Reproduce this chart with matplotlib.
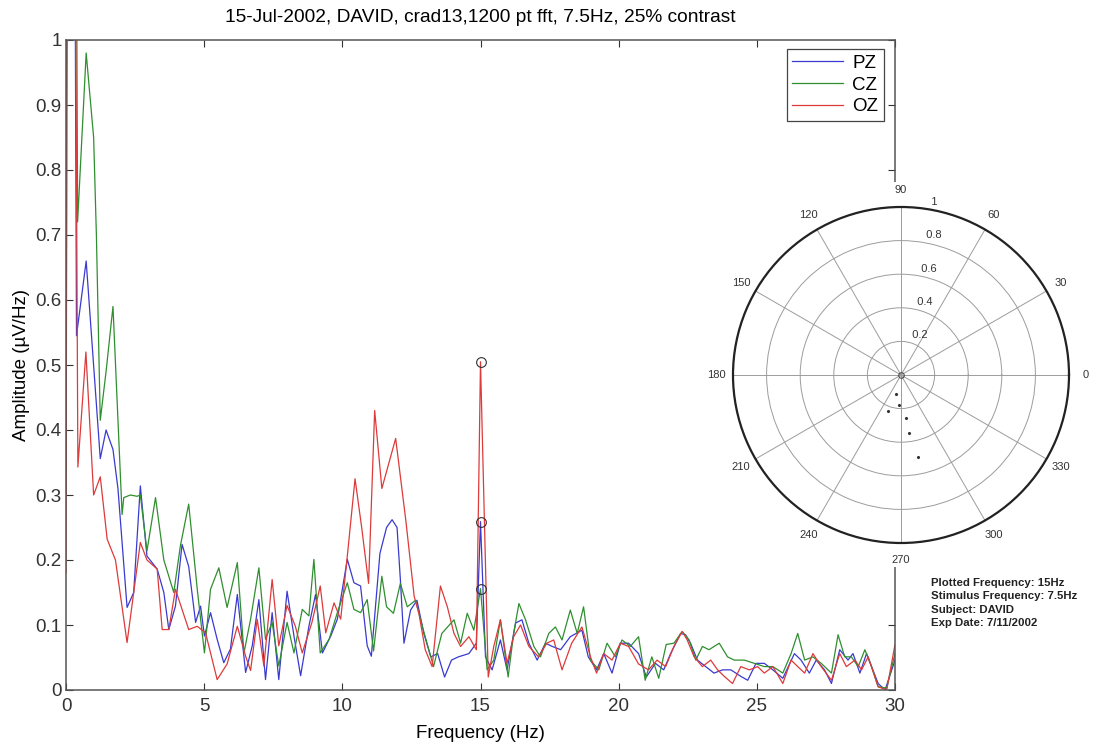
import matplotlib
matplotlib.use("Agg")
import matplotlib.pyplot as plt
import numpy as np

plt.rcParams['font.family'] = ['Liberation Sans', 'DejaVu Sans']

# spectrum vertices (Hz, amplitude)
pz_freq = [0.0, 0.1, 0.25, 0.38, 0.73, 1.24, 1.45, 1.70, 1.88, 2.21, 2.45, 2.69, 2.93, 3.30, 3.54, 3.72,
           3.96, 4.20, 4.44, 4.69, 4.87, 5.01, 5.23, 5.47, 5.71, 5.95, 6.20, 6.50, 6.74, 6.98, 7.22, 7.46,
           7.70, 8.00, 8.25, 8.49, 8.79, 9.03, 9.28, 9.58, 9.82, 10.18, 10.42, 10.66, 10.90, 11.05, 11.36,
           11.60, 11.80, 11.98, 12.10, 12.23, 12.47, 12.70, 12.95, 13.20, 13.45, 13.70, 13.95, 14.20, 14.58,
           14.85, 15.00, 15.18, 15.42, 15.72, 15.96, 16.27, 16.50, 16.75, 17.05, 17.35, 17.60, 17.90, 18.25,
           18.67, 18.90, 19.20, 19.46, 19.76, 20.06, 20.36, 20.72, 21.00, 21.33, 21.63, 21.88, 22.24, 22.42,
           22.60, 22.85, 23.15, 23.45, 23.76, 24.06, 24.42, 24.67, 24.97, 25.27, 25.58, 25.94, 26.36, 26.60,
           26.90, 27.15, 27.45, 27.70, 28.00, 28.30, 28.48, 28.73, 28.97, 29.39, 29.64, 30.0]
pz_amp = [0.72, 2.0, 2.0, 0.545, 0.66, 0.356, 0.40, 0.37, 0.31, 0.127, 0.15, 0.314, 0.206, 0.186, 0.15, 0.093,
          0.129, 0.224, 0.19, 0.104, 0.129, 0.083, 0.119, 0.078, 0.042, 0.063, 0.147, 0.027, 0.068, 0.139, 0.016, 0.119,
          0.016, 0.152, 0.083, 0.022, 0.098, 0.147, 0.057, 0.083, 0.109, 0.201, 0.165, 0.16, 0.068, 0.052, 0.21,
          0.25, 0.262, 0.25, 0.17, 0.072, 0.123, 0.138, 0.087, 0.051, 0.056, 0.02, 0.046, 0.051, 0.056,
          0.072, 0.259, 0.051, 0.031, 0.077, 0.031, 0.103, 0.108, 0.072, 0.046, 0.072, 0.067, 0.062, 0.082,
          0.092, 0.051, 0.031, 0.056, 0.026, 0.072, 0.072, 0.056, 0.02, 0.041, 0.031, 0.056, 0.087, 0.085,
          0.072, 0.046, 0.036, 0.026, 0.031, 0.031, 0.021, 0.015, 0.041, 0.041, 0.031, 0.018, 0.056, 0.046,
          0.026, 0.046, 0.031, 0.01, 0.062, 0.046, 0.056, 0.026, 0.056, 0.01, 0.0, 0.046]

cz_freq = [0.0, 0.1, 0.3, 0.42, 0.73, 1.0, 1.1, 1.24, 1.45, 1.70, 2.03, 2.09, 2.33, 2.57, 2.69, 2.93, 3.24,
           3.54, 3.90, 4.14, 4.44, 4.75, 5.01, 5.23, 5.53, 5.83, 6.20, 6.44, 6.68, 6.98, 7.22, 7.46, 7.70,
           8.00, 8.25, 8.55, 8.79, 8.97, 9.20, 9.52, 9.82, 10.18, 10.42, 10.66, 10.90, 11.13, 11.43, 11.60,
           11.85, 12.10, 12.35, 12.65, 12.90, 13.30, 13.60, 14.04, 14.28, 14.52, 14.76, 15.00, 15.24, 15.48,
           15.72, 16.00, 16.20, 16.39, 16.63, 16.93, 17.17, 17.47, 17.71, 17.95, 18.25, 18.50, 18.73, 18.98,
           19.28, 19.58, 19.88, 20.12, 20.42, 20.72, 20.96, 21.20, 21.45, 21.72, 22.00, 22.30, 22.55, 22.79,
           23.03, 23.27, 23.64, 23.94, 24.18, 24.55, 24.91, 25.27, 25.58, 25.94, 26.24, 26.48, 26.73, 27.03,
           27.33, 27.70, 27.94, 28.18, 28.42, 28.67, 28.91, 29.15, 29.39, 29.70, 30.0]
cz_amp = [0.30, 2.5, 2.0, 0.72, 0.98, 0.85, 0.70, 0.415, 0.49, 0.59, 0.27, 0.296, 0.30, 0.298, 0.30, 0.214, 0.296,
          0.20, 0.15, 0.222, 0.286, 0.155, 0.057, 0.155, 0.188, 0.127, 0.196, 0.057, 0.109, 0.188, 0.078, 0.104, 0.037,
          0.104, 0.057, 0.124, 0.114, 0.201, 0.057, 0.078, 0.119, 0.165, 0.124, 0.119, 0.139, 0.06, 0.175, 0.128,
          0.118, 0.164, 0.128, 0.138, 0.097, 0.036, 0.087, 0.108, 0.072, 0.118, 0.092, 0.156, 0.031, 0.046,
          0.108, 0.02, 0.087, 0.133, 0.108, 0.067, 0.051, 0.087, 0.097, 0.077, 0.123, 0.087, 0.128, 0.046,
          0.031, 0.072, 0.051, 0.077, 0.067, 0.082, 0.015, 0.051, 0.018, 0.070, 0.072, 0.09, 0.077, 0.046,
          0.067, 0.062, 0.072, 0.051, 0.046, 0.046, 0.041, 0.036, 0.036, 0.026, 0.056, 0.087, 0.046, 0.051,
          0.041, 0.026, 0.085, 0.051, 0.051, 0.036, 0.062, 0.036, 0.005, 0.003, 0.056]

oz_freq = [0.0, 0.1, 0.3, 0.43, 0.72, 1.00, 1.24, 1.49, 1.79, 2.21, 2.69, 2.93, 3.30, 3.48, 3.72, 3.96, 4.44,
           4.75, 5.05, 5.47, 5.83, 6.20, 6.50, 6.68, 6.92, 7.16, 7.46, 7.70, 8.00, 8.30, 8.55, 8.90, 9.20,
           9.40, 9.70, 9.94, 10.18, 10.46, 10.70, 10.95, 11.17, 11.43, 11.93, 12.30, 12.60, 12.77, 13.00,
           13.25, 13.55, 13.80, 14.04, 14.28, 14.58, 14.85, 15.00, 15.28, 15.48, 15.72, 15.96, 16.20, 16.45,
           16.75, 17.10, 17.40, 17.65, 17.95, 18.30, 18.67, 18.98, 19.20, 19.46, 19.76, 20.06, 20.36, 20.72,
           21.08, 21.39, 21.70, 22.00, 22.30, 22.48, 22.73, 23.03, 23.33, 23.58, 23.82, 24.12, 24.42, 24.73,
           25.03, 25.27, 25.58, 25.94, 26.24, 26.48, 26.73, 27.03, 27.33, 27.70, 28.00, 28.24, 28.55, 28.79,
           29.03, 29.39, 29.70, 30.0]
oz_amp = [0.18, 2.5, 1.5, 0.343, 0.52, 0.30, 0.328, 0.232, 0.20, 0.073, 0.227, 0.20, 0.186, 0.093, 0.093, 0.155, 0.093,
          0.098, 0.088, 0.016, 0.04, 0.098, 0.052, 0.03, 0.109, 0.037, 0.17, 0.068, 0.13, 0.098, 0.057, 0.104, 0.16,
          0.088, 0.134, 0.109, 0.206, 0.325, 0.25, 0.164, 0.43, 0.31, 0.387, 0.26, 0.144, 0.118, 0.062,
          0.036, 0.16, 0.128, 0.087, 0.067, 0.082, 0.062, 0.505, 0.02, 0.067, 0.108, 0.041, 0.082, 0.10,
          0.067, 0.051, 0.072, 0.077, 0.031, 0.072, 0.097, 0.051, 0.026, 0.056, 0.046, 0.072, 0.067, 0.04,
          0.031, 0.046, 0.036, 0.067, 0.09, 0.077, 0.051, 0.036, 0.046, 0.031, 0.021, 0.01, 0.036, 0.031,
          0.036, 0.026, 0.036, 0.01, 0.046, 0.036, 0.026, 0.056, 0.036, 0.015, 0.056, 0.036, 0.046, 0.031,
          0.051, 0.005, 0.0, 0.07]

channels = ['PZ', 'CZ', 'OZ']
colors = ['#3a3ad0', '#2f8f2f', '#dd3a3a']
stim_freq = 15.0
peak_amp = [0.259, 0.156, 0.505]

# polar inset: phase (deg) / magnitude of the points
pol_theta = [255, 266, 250, 276, 278, 282]
pol_r = [0.12, 0.18, 0.23, 0.26, 0.35, 0.50]
ring_r = [0.2, 0.4, 0.6, 0.8, 1.0]
ring_lbl = ['0.2', '0.4', '0.6', '0.8', '1']
spoke_deg = list(range(0, 360, 30))

info_lines = ['Plotted Frequency: 15Hz', 'Stimulus Frequency: 7.5Hz',
              'Subject: DAVID', 'Exp Date: 7/11/2002']

W, H = 1094, 742
FS = 13.5
fig = plt.figure(figsize=(W / 100, H / 100), dpi=100)
fig.patch.set_facecolor('white')

ax = fig.add_axes([66 / W, 1 - 690 / H, 829 / W, 650 / H])
for f, a, c, lab in zip([pz_freq, cz_freq, oz_freq], [pz_amp, cz_amp, oz_amp], colors, channels):
    ax.plot(f, a, color=c, lw=0.9, label=lab)
ax.plot([stim_freq] * 3, peak_amp, 'o', ms=7, mfc='none', mec='#303030', mew=0.8)

ax.set_xlim(0, 30)
ax.set_ylim(0, 1)
ax.set_xticks(range(0, 31, 5))
ax.set_yticks(np.arange(0, 1.01, 0.1))
ax.set_yticklabels(['0', '0.1', '0.2', '0.3', '0.4', '0.5', '0.6', '0.7', '0.8', '0.9', '1'])
ax.tick_params(direction='in', length=5, width=0.8, top=True, right=True,
               labelsize=FS, colors='#333333', pad=3)
ax.tick_params(axis='x', pad=6)
for s in ax.spines.values():
    s.set_color('#555555')
    s.set_linewidth(1.1)
ax.set_xlabel('Frequency (Hz)', fontsize=FS, labelpad=7)
ax.set_ylabel('Amplitude (\u00b5V/Hz)', fontsize=FS, labelpad=4)
ax.set_title('15-Jul-2002, DAVID, crad13,1200 pt fft, 7.5Hz, 25% contrast', fontsize=13.8, pad=13)

leg = ax.legend(loc='upper right', bbox_to_anchor=(818 / 829, 641 / 650), borderaxespad=0,
                fontsize=FS, handlelength=2.7, labelspacing=0.25, borderpad=0.3,
                handletextpad=0.5, fancybox=False, framealpha=1)
leg.get_frame().set_edgecolor('#444444')
leg.get_frame().set_linewidth(0.9)

# white backing square for the polar plot (hides the axis edge behind it)
bg = fig.add_axes([708 / W, 1 - 567 / H, 386 / W, 385 / H])
bg.set_xticks([])
bg.set_yticks([])
for s in bg.spines.values():
    s.set_visible(False)

R = 168
pax = fig.add_axes([(901 - R) / W, 1 - (375 + R) / H, 2 * R / W, 2 * R / H], projection='polar')
pax.set_ylim(0, 1)
pax.set_yticks(ring_r)
pax.set_yticklabels([])
pax.set_xticks(np.deg2rad(spoke_deg))
pax.set_xticklabels([])
pax.grid(True, color='#9c9c9c', lw=0.7)
pax.spines['polar'].set_color('#222222')
pax.spines['polar'].set_linewidth(1.6)
for r, lab in zip(ring_r, ring_lbl):
    pax.text(np.deg2rad(82), r + 0.01, '  ' + lab, fontsize=8, ha='left', va='bottom', color='#333333')
for d in spoke_deg:
    pax.text(np.deg2rad(d), 1.1, str(d), fontsize=8, ha='center', va='center', color='#333333')
pax.plot(np.deg2rad(pol_theta), pol_r, '.', color='#333333', ms=2.5)
pax.plot([0], [0], 'o', ms=4, mfc='none', mec='#444444', mew=0.7)

for i, line in enumerate(info_lines):
    fig.text(931 / W, 1 - (583 + 13.3 * i) / H, line, fontsize=8.2, fontweight='bold',
             ha='left', va='center', color='#222222')

fig.savefig('out.png', dpi=100)
